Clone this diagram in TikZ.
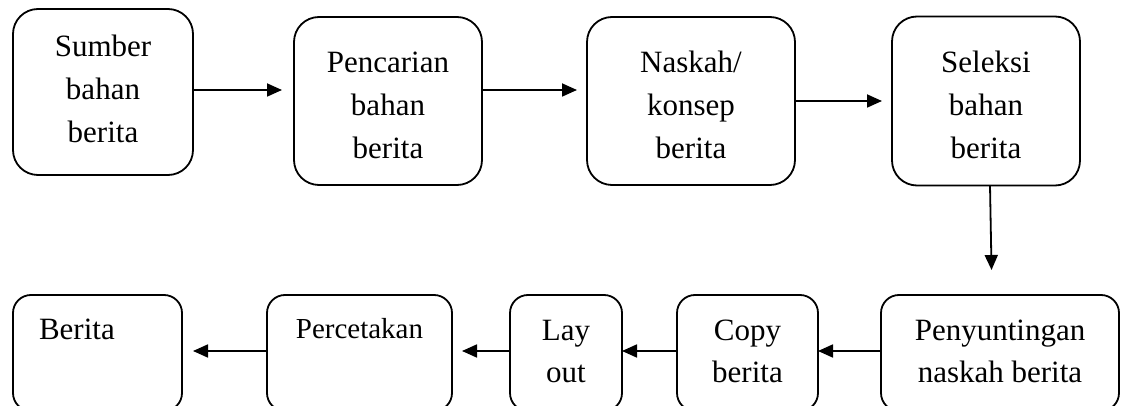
\documentclass[tikz,border=0pt]{standalone}
\usepackage{fontspec}
\setmainfont{Liberation Serif}
\usetikzlibrary{arrows.meta,positioning}
\tikzstyle{topbox}=[rectangle,draw=black,line width=1.8pt,rounded corners=25pt,
align=center,inner xsep=0pt,inner ysep=10pt,outer sep=0pt,text height=132pt,text depth=16pt,
font=\fontsize{31}{43}\selectfont]
\tikzstyle{lowbox}=[rectangle,draw=black,line width=1.8pt,rounded corners=18pt,
align=center,inner xsep=0pt,inner ysep=10pt,outer sep=0pt,text height=77pt,text depth=19pt,
font=\fontsize{31}{42}\selectfont]
\tikzstyle{flow}=[line width=1.8pt,-{Triangle[length=15pt,width=13pt]}]

\begin{document}
\begin{tikzpicture}[x=1pt,y=-1pt]
            \useasboundingbox (0,0) rectangle (1128,406);
            \clip (0,0) rectangle (1128,406);

            % TOP ROW

            \node[topbox,minimum width=180pt,text height=124pt,text depth=22pt] (sumber) at (103,92) {Sumber\\bahan\\berita};
            \node[topbox,minimum width=188pt,right=101pt of sumber,yshift=-9pt] (pencarian) {Pencarian\\bahan\\berita};
            \node[topbox,minimum width=208pt,right=105pt of pencarian] (naskah) {Naskah/\\konsep\\berita};
            \node[topbox,minimum width=188pt,text depth=17pt,right=97pt of naskah] (seleksi) {Seleksi\\bahan\\berita};

            \path[flow] ([yshift=2pt]sumber.east) edge[shorten >=12pt] ([yshift=2pt]sumber.east -| pencarian.west);
            \path[flow] ([yshift=11pt]pencarian.east) edge[shorten >=10pt] ([yshift=11pt]pencarian.east -| naskah.west);
            \path[flow] (naskah.east) edge[shorten >=10pt] (naskah.east -| seleksi.west);

            % BOTTOM ROW

            \node[lowbox,minimum width=169pt,text width=117pt,inner xsep=26pt,align=left,
                  text height=35pt,text depth=61pt,
                  below=120pt of sumber.south west,anchor=north west] (berita) {Berita};
            \node[lowbox,minimum width=185pt,text height=33pt,text depth=63pt,
                  font=\fontsize{29}{40}\selectfont,right=85pt of berita] (cetak) {Percetakan};
            \node[lowbox,minimum width=112pt,right=58pt of cetak] (layout) {Lay\\out};
            \node[lowbox,minimum width=141pt,right=55pt of layout] (copy) {Copy\\berita};
            \node[lowbox,minimum width=238pt,right=63pt of copy] (sunting) {Penyuntingan\\naskah berita};

            \path[flow] ([xshift=4pt]seleksi.south) edge[shorten >=25pt] ([xshift=-8pt]sunting.north);
            \path[flow] ([yshift=2pt]sunting.west) edge ([yshift=2pt]sunting.west -| copy.east);
            \path[flow] ([yshift=2pt]copy.west) edge ([yshift=2pt]copy.west -| layout.east);
            \path[flow] ([yshift=2pt]layout.west) edge[shorten >=10pt] ([yshift=2pt]layout.west -| cetak.east);
            \path[flow] ([yshift=2pt]cetak.west) edge[shorten >=11pt] ([yshift=2pt]cetak.west -| berita.east);

        \end{tikzpicture}
\end{document}
